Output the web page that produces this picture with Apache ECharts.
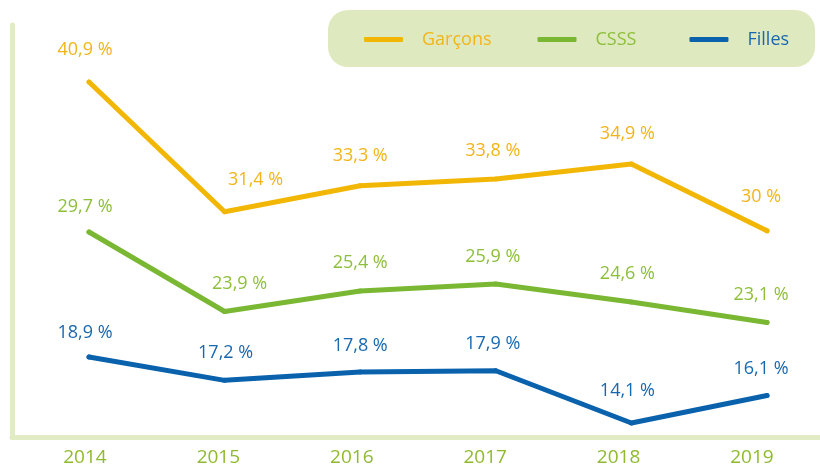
<!DOCTYPE html>
<html>
<head>
<meta charset="utf-8">
<script src="https://cdn.jsdelivr.net/npm/echarts@6/dist/echarts.min.js"></script>
<style>
  html, body { margin: 0; background: #fff; }
  #chart { width: 820px; height: 468px; }
</style>
</head>
<body>
<div id="chart"></div>
<script>
const YEARS = [2014, 2015, 2016, 2017, 2018, 2019];
const GARCONS = [40.9, 31.4, 33.3, 33.8, 34.9, 30];
const CSSS = [29.7, 23.9, 25.4, 25.9, 24.6, 23.1];
const FILLES = [18.9, 17.2, 17.8, 17.9, 14.1, 16.1];

// label nudges in px, relative to each vertex
const SHIFT_G = [[-4, -32], [31, -32], [0, -30], [-3, -28], [-4, -30], [-6, -34]];
const SHIFT_C = [[-4, -25], [15, -28], [0, -28], [-3, -27], [-4, -28], [-6, -28]];
const SHIFT_F = [[-4, -24], [1, -27], [0, -26], [-3, -27], [-4, -32], [-6, -27]];

const FONT = 'Open Sans';
const AXIS_GREEN = '#e1ebc4';

const chart = echarts.init(document.getElementById('chart'), null, { renderer: 'canvas' });

function fmt(v) {
  return String(v).replace('.', ',') + ' %';
}

function makeSeries(name, values, shifts, yIdx, color, labelColor) {
  return {
    name,
    type: 'line',
    xAxisIndex: 0,
    yAxisIndex: yIdx,
    data: values.map((v, i) => ({
      value: [YEARS[i], v],
      label: { offset: shifts[i] },
    })),
    symbol: 'circle',
    symbolSize: 5,
    itemStyle: { color },
    lineStyle: { color, width: 5, cap: 'round', join: 'round' },
    label: {
      show: true,
      position: 'inside',
      formatter: p => fmt(p.value[1]),
      color: labelColor,
      fontFamily: FONT,
      fontSize: 18,
    },
    emphasis: { disabled: true },
  };
}

chart.setOption({
  backgroundColor: '#fff',
  animation: false,
  grid: { left: 12, right: 0, top: 25, bottom: 31 },
  legend: {
    left: 328,
    top: 10,
    padding: [19, 26, 17, 36],
    backgroundColor: '#dfe9bf',
    borderRadius: 20,
    icon: 'roundRect',
    itemWidth: 39,
    itemHeight: 5,
    itemGap: 46,
    selectedMode: false,
    textStyle: {
      fontFamily: FONT,
      fontSize: 18,
      lineHeight: 21,
      padding: [0, 0, 0, 14],
    },
    data: [
      { name: 'Garçons', textStyle: { color: '#f3b41a' } },
      { name: 'CSSS', textStyle: { color: '#8dbf3a', padding: [0, 7, 0, 14] } },
      { name: 'Filles', textStyle: { color: '#1868b0' } },
    ],
  },
  xAxis: [
    {
      type: 'value',
      min: 2013.432,
      max: 2019.391,
      axisLine: { show: true, lineStyle: { color: AXIS_GREEN, width: 5 } },
      axisTick: { show: false },
      axisLabel: { show: false },
      splitLine: { show: false },
    },
    {
      type: 'value',
      position: 'bottom',
      min: 2013.453,
      max: 2019.51,
      axisLine: { show: false },
      axisTick: { show: false },
      splitLine: { show: false },
      axisLabel: {
        customValues: YEARS,
        formatter: v => String(v),
        color: '#8fba2f',
        fontFamily: FONT,
        fontSize: 19,
        margin: 11,
      },
    },
  ],
  yAxis: [
    {
      type: 'value',
      min: 14.9,
      max: 45.08,
      axisLine: { show: true, lineStyle: { color: AXIS_GREEN, width: 5 } },
      axisTick: { show: false },
      axisLabel: { show: false },
      splitLine: { show: false },
    },
    { type: 'value', min: 14.74, max: 44.81, show: false },
    { type: 'value', min: 13.08, max: 43.04, show: false },
  ],
  series: [
    makeSeries('Garçons', GARCONS, SHIFT_G, 0, '#f2b705', '#f3b41a'),
    makeSeries('CSSS', CSSS, SHIFT_C, 1, '#7ab833', '#8dbf3a'),
    makeSeries('Filles', FILLES, SHIFT_F, 2, '#0a62ad', '#1868b0'),
  ],
});
</script>
</body>
</html>
